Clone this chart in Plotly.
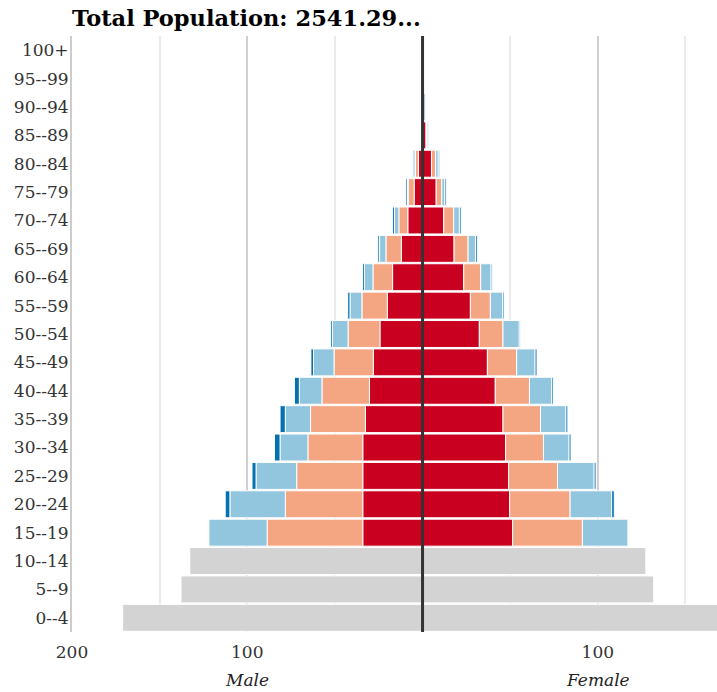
import plotly.graph_objects as go

ages = ["0--4", "5--9", "10--14", "15--19", "20--24", "25--29", "30--34", "35--39",
        "40--44", "45--49", "50--54", "55--59", "60--64", "65--69", "70--74",
        "75--79", "80--84", "85--89", "90--94", "95--99", "100+"]

N = None
# Male segments (from centre outward)
male_red    = [N, N, N, 34.1, 34.1, 34.1, 34.1, 32.6, 30.3, 28.1, 24.3, 20.1, 17.1, 12.1, 8.4, 4.8, 2.4, 0.6, 0.2, 0.1, 0]
male_salmon = [N, N, N, 54.6, 44.2, 37.7, 31.3, 31.3, 27.1, 22.4, 18.2, 14.5, 11.2, 8.8, 5.1, 3.4, 1.7, 0.3, 0.1, 0, 0]
male_lblue  = [N, N, N, 33.2, 31.6, 23.2, 15.9, 14.4, 12.9, 11.7, 8.9, 6.8, 4.9, 3.6, 2.5, 0.4, 0.9, 0.3, 0.1, 0, 0]
male_dblue  = [N, N, N, 0, 2.7, 2.3, 3.2, 3.0, 2.8, 1.5, 1.0, 1.3, 1.1, 1.0, 1.1, 0.9, 0.7, 0.5, 0.2, 0.1, 0]
male_gray   = [171.1, 137.8, 132.8] + [N] * 18

# Female segments (from centre outward)
female_red    = [N, N, N, 51.4, 49.7, 49.1, 47.4, 45.9, 41.5, 37.0, 32.4, 27.3, 23.5, 18.0, 12.1, 7.8, 5.1, 2.0, 0.3, 0.1, 0]
female_salmon = [N, N, N, 39.8, 34.5, 27.9, 21.6, 21.4, 19.5, 16.7, 13.5, 11.4, 9.7, 8.0, 5.7, 3.2, 2.4, 0.3, 0.1, 0, 0]
female_lblue  = [N, N, N, 26.2, 23.7, 20.9, 14.6, 14.5, 12.7, 10.5, 9.3, 7.0, 5.9, 4.2, 3.2, 1.7, 1.5, 0.7, 0.5, 0.4, 0]
female_dblue  = [N, N, N, 0, 1.5, 1.1, 1.1, 1.1, 0.9, 1.1, 0.6, 0.8, 0.6, 1.0, 1.0, 0.8, 0.8, 0.5, 0.7, 0.6, 0]
female_gray   = [172.0, 131.9, 127.4] + [N] * 18

x_tickvals = [-200, -100, 0, 100, 200]
x_ticktext = ["200", "100", "", "100", "200"]
x_minorvals = [-150, -50, 50, 150]

colors = {"red": "#ca0020", "salmon": "#f4a582", "lblue": "#92c5de",
          "dblue": "#0571b0", "gray": "#d3d3d3"}

def neg(v):
    return [None if a is None else -a for a in v]

fig = go.Figure()
series = [
    (male_gray, "gray", True), (female_gray, "gray", False),
    (male_red, "red", True), (female_red, "red", False),
    (male_salmon, "salmon", True), (female_salmon, "salmon", False),
    (male_lblue, "lblue", True), (female_lblue, "lblue", False),
    (male_dblue, "dblue", True), (female_dblue, "dblue", False),
]
for vals, c, is_male in series:
    fig.add_trace(go.Bar(
        y=ages, x=neg(vals) if is_male else vals, orientation="h",
        marker=dict(color=colors[c], line=dict(color="white", width=1)),
        showlegend=False, hoverinfo="skip"))

fig.add_shape(type="line", xref="x", yref="paper", x0=0, x1=0, y0=0, y1=1,
              line=dict(color="#333333", width=3))

font_family = "DejaVu Serif"
fig.add_annotation(x=-100, y=-0.0805, xref="x", yref="paper", text="<i>Male</i>",
                   yanchor="middle", xanchor="center",
                   showarrow=False, font=dict(family=font_family, size=17, color="#222"))
fig.add_annotation(x=100, y=-0.0805, xref="x", yref="paper", text="<i>Female</i>",
                   yanchor="middle", xanchor="center",
                   showarrow=False, font=dict(family=font_family, size=17, color="#222"))

fig.update_layout(
    width=717, height=692,
    margin=dict(l=72, r=0, t=36, b=60),
    barmode="relative", bargap=0.05,
    plot_bgcolor="white", paper_bgcolor="white",
    font=dict(family=font_family, size=17, color="#333"),
    title=dict(text="<b>Total Population: 2541.29...</b>",
               x=72/717, xanchor="left", xref="container",
               y=1 - 18/692, yanchor="middle", yref="container",
               font=dict(family=font_family, size=22.5, color="black")),
    xaxis=dict(range=[-200, 168], tickmode="array", tickvals=x_tickvals,
               ticktext=x_ticktext, showgrid=True, gridcolor="#d0d0d0", gridwidth=1.5,
               zeroline=False, showline=False, ticks="", automargin=False,
               ticklabelstandoff=8,
               minor=dict(tickmode="array", tickvals=x_minorvals, showgrid=True,
                          gridcolor="#ebebeb", gridwidth=1.5, ticks="")),
    yaxis=dict(showgrid=False, zeroline=False, showline=True, linecolor="#cccccc",
               linewidth=2, ticks="", ticklabelstandoff=-2, automargin=False),
)

fig.write_html("out.html", config={"displayModeBar": False},
               post_script="document.body.style.margin='0';document.body.style.overflow='hidden';")
